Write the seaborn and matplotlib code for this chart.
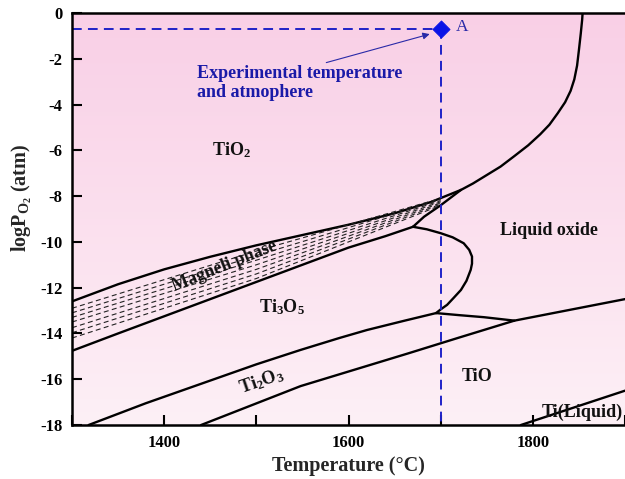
import numpy as np
import pandas as pd
import matplotlib
matplotlib.use("Agg")
import matplotlib.pyplot as plt
import seaborn as sns
from matplotlib.colors import LinearSegmentedColormap

# ---- phase boundaries (temperature in °C, logPO2 in atm) ----
tio2_magneli_T = [1300, 1350, 1400, 1450, 1500, 1550, 1600, 1650, 1690, 1722]
tio2_magneli_P = [-12.6, -11.85, -11.2, -10.65, -10.15, -9.7, -9.25, -8.75, -8.25, -7.73]

magneli_ti3o5_T = [1300, 1350, 1400, 1450, 1500, 1550, 1600, 1640, 1670]
magneli_ti3o5_P = [-14.76, -14.0, -13.25, -12.5, -11.75, -11.0, -10.25, -9.75, -9.34]

magneli_right_T = [1670, 1682, 1700, 1722]
magneli_right_P = [-9.34, -8.9, -8.4, -7.73]

# internal Magneli sub-phase boundaries (values at 1300, 1500 and 1700 °C)
magneli_sub_T = [1300, 1500, 1700]
magneli_sub_1300 = [-12.9, -13.1, -13.3, -13.5, -13.75, -13.97, -14.2]
magneli_sub_1500 = [-10.4, -10.6, -10.8, -11.0, -11.2, -11.4, -11.6]
magneli_sub_1700 = [-8.1, -8.15, -8.2, -8.25, -8.3, -8.35, -8.4]

liquid_T = [1722, 1735, 1750, 1765, 1780, 1795, 1808, 1818, 1827, 1835,
            1841, 1845, 1848, 1850, 1852, 1853.5, 1854]
liquid_P = [-7.73, -7.45, -7.08, -6.71, -6.25, -5.78, -5.3, -4.88, -4.38, -3.9,
            -3.4, -2.9, -2.3, -1.62, -0.9, -0.3, 0.0]

ti3o5_liquid_T = [1670, 1685, 1700, 1713, 1725, 1731, 1734, 1734, 1732.6,
                  1728, 1722, 1714, 1707, 1700, 1695]
ti3o5_liquid_P = [-9.34, -9.45, -9.62, -9.8, -10.06, -10.35, -10.64, -10.95,
                  -11.22, -11.7, -12.1, -12.45, -12.75, -12.95, -13.11]

ti3o5_ti2o3_T = [1318, 1380, 1440, 1500, 1548, 1590, 1620, 1660, 1695]
ti3o5_ti2o3_P = [-18.0, -17.05, -16.2, -15.35, -14.72, -14.2, -13.85, -13.45, -13.11]

ti3o5_tio_T = [1695, 1720, 1747, 1780]
ti3o5_tio_P = [-13.11, -13.2, -13.29, -13.44]

ti2o3_tio_T = [1440, 1548, 1664, 1720, 1780, 1840, 1900]
ti2o3_tio_P = [-18.0, -16.3, -14.88, -14.18, -13.44, -12.97, -12.5]

ti_liquid_T = [1787, 1900]
ti_liquid_P = [-18.0, -16.5]

# experimental condition (point A)
exp_T = [1700]
exp_P = [-0.7]

x_ticks = [1300, 1400, 1500, 1600, 1700, 1800, 1900]
x_labels = ["", "1400", "", "1600", "", "1800", ""]
y_ticks = [0, -2, -4, -6, -8, -10, -12, -14, -16, -18]
y_labels = ["0", "-2", "-4", "-6", "-8", "-10", "-12", "-14", "-16", "-18"]

sns.set_theme(style="ticks")
plt.rcParams["font.family"] = ["Liberation Serif", "DejaVu Serif"]
plt.rcParams["mathtext.fontset"] = "custom"
plt.rcParams["mathtext.rm"] = "Liberation Serif:bold"
plt.rcParams["mathtext.bf"] = "Liberation Serif:bold"
plt.rcParams["mathtext.it"] = "Liberation Serif:italic:bold"

fig = plt.figure(figsize=(6.25, 4.79), dpi=100)
ax = fig.add_axes([0.1152, 0.1127, 0.8848, 0.8602])

# pink vertical gradient background
cmap = LinearSegmentedColormap.from_list("bg", ["#fdf0f6", "#f9cfe6"])
grad = np.linspace(0, 1, 256).reshape(-1, 1)
ax.imshow(grad, extent=[1300, 1900, -18, 0], origin="lower", aspect="auto",
          cmap=cmap, zorder=0)

line_kw = dict(color="black", lw=1.7, estimator=None, sort=False, legend=False, ax=ax)


def curve(T, P):
    df = pd.DataFrame({"T": T, "P": P})
    sns.lineplot(data=df, x="T", y="P", **line_kw)


for T, P in [(tio2_magneli_T, tio2_magneli_P), (magneli_ti3o5_T, magneli_ti3o5_P),
             (magneli_right_T, magneli_right_P), (liquid_T, liquid_P),
             (ti3o5_liquid_T, ti3o5_liquid_P), (ti3o5_ti2o3_T, ti3o5_ti2o3_P),
             (ti3o5_tio_T, ti3o5_tio_P), (ti2o3_tio_T, ti2o3_tio_P),
             (ti_liquid_T, ti_liquid_P)]:
    curve(T, P)

for a, b, c in zip(magneli_sub_1300, magneli_sub_1500, magneli_sub_1700):
    df = pd.DataFrame({"T": magneli_sub_T, "P": [a, b, c]})
    sns.lineplot(data=df, x="T", y="P", color="#222222", lw=0.8,
                 estimator=None, sort=False, legend=False, ax=ax,
                 linestyle=(0, (4.5, 3)))

# experimental temperature / atmosphere guides
blue = "#1f22c8"
ax.plot([1300, exp_T[0]], [exp_P[0], exp_P[0]], color=blue, lw=1.4,
        linestyle=(0, (5, 3.2)))
ax.plot([exp_T[0], exp_T[0]], [exp_P[0], -18], color=blue, lw=1.4,
        linestyle=(0, (5, 3.2)))
sns.scatterplot(x=exp_T, y=exp_P, marker="D", s=75, color="#0a14e6",
                edgecolor="#0a14e6", zorder=5, ax=ax, legend=False)
ax.text(1716, -0.62, "A", color="#2a2aa8", fontsize=12.5, va="center", ha="left")

ax.annotate("", xy=(1691, -0.89), xytext=(1573, -2.2),
            arrowprops=dict(arrowstyle="-|>", color="#2a2aa8", lw=0.8,
                            mutation_scale=10))
ax.text(1436, -3.05, "Experimental temperature\nand atmophere", color="#1a1aa8",
        fontsize=13, fontweight="bold", ha="left", va="center", linespacing=1.15)

# phase labels
lab = dict(fontsize=13, fontweight="bold", color="#111111", ha="center", va="center")
ax.text(1473, -6.0, "TiO$_2$", **lab)
ax.text(1528, -12.85, "Ti$_3$O$_5$", **lab)
ax.text(1506, -16.1, "Ti$_2$O$_3$", rotation=19, **lab)
ax.text(1740, -15.9, "TiO", **lab)
ax.text(1818, -9.5, "Liquid oxide", **lab)
ax.text(1466, -11.05, "Magneli phase", rotation=22, **lab)
ax.text(1898, -17.45, "Ti(Liquid)", fontsize=13, fontweight="bold",
        color="#111111", ha="right", va="center")

ax.set_xlim(1300, 1900)
ax.set_ylim(-18, 0)
ax.set_xticks(x_ticks)
ax.set_xticklabels(x_labels)
ax.set_yticks(y_ticks)
ax.set_yticklabels(y_labels)
ax.tick_params(direction="in", length=7, width=1.5, labelsize=12, pad=7,
               colors="black")
for t in ax.get_xticklabels() + ax.get_yticklabels():
    t.set_fontweight("bold")

for s in ["left", "bottom", "top"]:
    ax.spines[s].set_linewidth(1.8)
    ax.spines[s].set_color("black")
ax.spines["right"].set_visible(False)

ax.set_xlabel("Temperature (°C)", fontsize=14.5, fontweight="bold", labelpad=4)
ax.set_ylabel("")
fig.text(22 / 625, 1 - 198 / 479, r"$\rm logP_{O_2}$ (atm)", fontsize=14.5,
         fontweight="bold", rotation=90, ha="center", va="center")

fig.savefig("out.png", dpi=100)
